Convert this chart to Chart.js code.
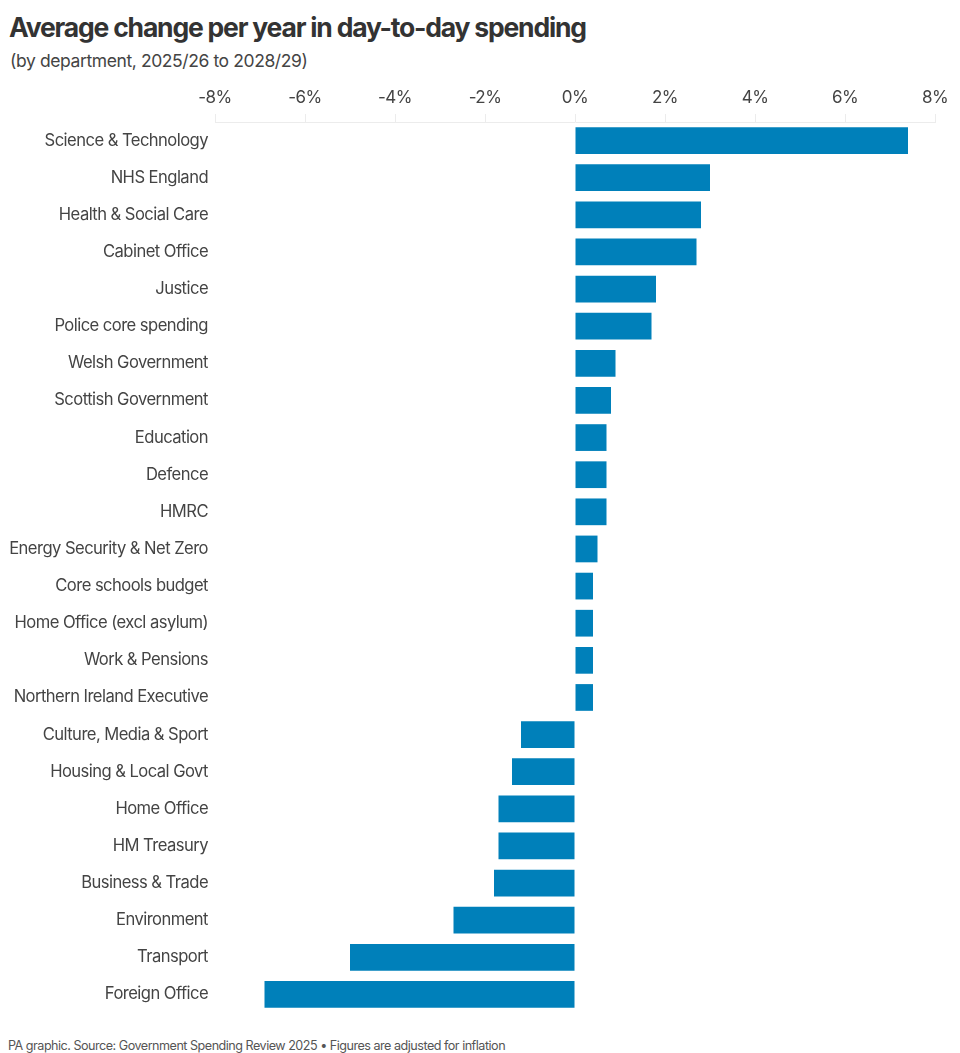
<!DOCTYPE html>
<html>
<head>
<meta charset="utf-8">
<script src="https://cdn.jsdelivr.net/npm/chart.js@4"></script>
<style>
    body { margin: 0; background: #fff; width: 960px; height: 1053px; overflow: hidden; position: relative; font-family: Inter, "Noto Sans", sans-serif; color: #333; }
    #title { position: absolute; left: 9px; top: 11px; font-size: 26.5px; font-weight: 700; letter-spacing: -1.2px; color: #333; white-space: nowrap; }
    #subtitle { position: absolute; left: 10px; top: 50px; font-size: 17.5px; letter-spacing: -0.4px; color: #444; white-space: nowrap; }
    #footer { position: absolute; left: 8px; top: 1038px; font-size: 12.6px; letter-spacing: -0.5px; color: #555; white-space: nowrap; }
    #wrap { position: absolute; left: 0; top: 80px; width: 960px; height: 950px; }
</style>
</head>
<body>
<div id="title">Average change per year in day-to-day spending</div>
<div id="subtitle">(by department, 2025/26 to 2028/29)</div>
<div id="wrap"><canvas id="chart"></canvas></div>
<div id="footer">PA graphic. Source: Government Spending Review 2025 • Figures are adjusted for inflation</div>
<script>
// Departments and average yearly change (%), read from the graphic
const departments = [
    "Science & Technology", "NHS England", "Health & Social Care", "Cabinet Office",
    "Justice", "Police core spending", "Welsh Government", "Scottish Government",
    "Education", "Defence", "HMRC", "Energy Security & Net Zero",
    "Core schools budget", "Home Office (excl asylum)", "Work & Pensions", "Northern Ireland Executive",
    "Culture, Media & Sport", "Housing & Local Govt", "Home Office", "HM Treasury",
    "Business & Trade", "Environment", "Transport", "Foreign Office"
];
const changes = [
    7.4, 3.0, 2.8, 2.7,
    1.8, 1.7, 0.9, 0.8,
    0.7, 0.7, 0.7, 0.5,
    0.4, 0.4, 0.4, 0.4,
    -1.2, -1.4, -1.7, -1.7,
    -1.8, -2.7, -5.0, -6.9
];
const tickValues = [-8, -6, -4, -2, 0, 2, 4, 6, 8];

const spacingPlugin = {
    id: "spacing",
    beforeDraw(chart) { chart.ctx.letterSpacing = "-0.55px"; }
};

const ctx = document.getElementById("chart").getContext("2d");
new Chart(ctx, {
    type: "bar",
    data: {
        labels: departments,
        datasets: [{
            data: changes,
            backgroundColor: "#0080ba",
            borderWidth: 0,
            barPercentage: 0.72,
            categoryPercentage: 1
        }]
    },
    options: {
        indexAxis: "y",
        responsive: true,
        maintainAspectRatio: false,
        animation: false,
        layout: { padding: { left: 0, right: 25, top: 0, bottom: 0 } },
        plugins: {
            legend: { display: false },
            tooltip: { enabled: false }
        },
        scales: {
            x: {
                position: "top",
                min: -8,
                max: 8,
                afterBuildTicks: scale => {
                    scale.ticks = tickValues.map(v => ({ value: v }));
                },
                afterFit: scale => { scale.height = 42; },
                grid: {
                    drawOnChartArea: false,
                    drawTicks: true,
                    tickLength: 8,
                    color: "#ececec"
                },
                border: { display: true, color: "#ececec" },
                ticks: {
                    padding: 6,
                    color: "#444",
                    font: { family: "Inter", size: 17 },
                    callback: value => value + "%"
                }
            },
            y: {
                afterFit: scale => { scale.width = 215; },
                grid: { display: false, drawTicks: false },
                border: { display: false },
                ticks: {
                    padding: 7,
                    color: "#444",
                    font: { family: "Inter", size: 16.6 }
                }
            }
        }
    },
    plugins: [spacingPlugin]
});
</script>
</body>
</html>
